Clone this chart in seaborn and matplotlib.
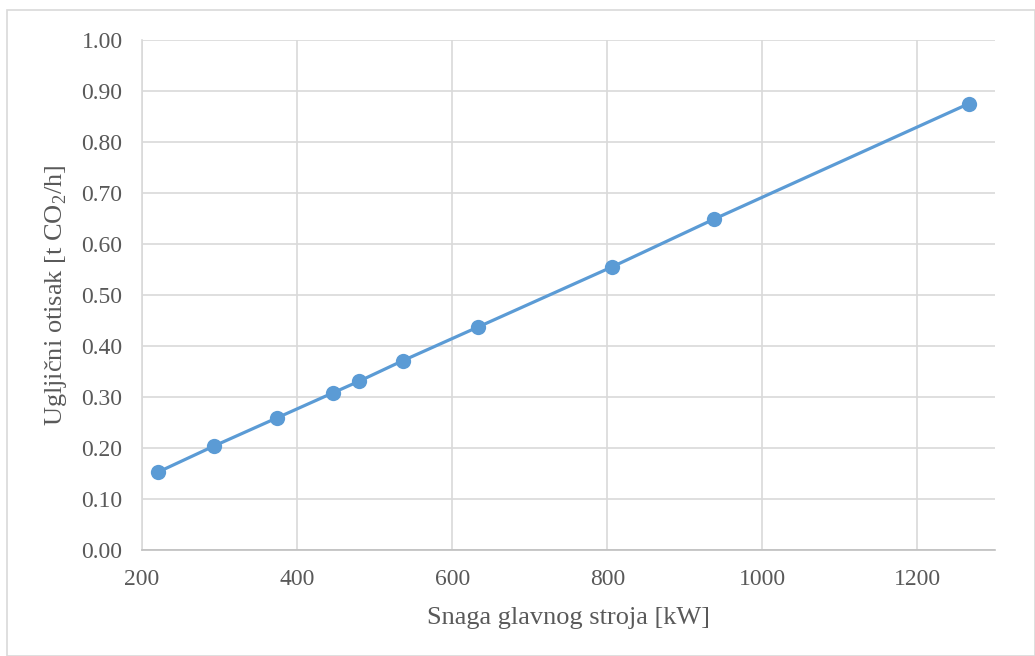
import matplotlib
matplotlib.use("Agg")
import matplotlib.pyplot as plt
import seaborn as sns
import pandas as pd
from matplotlib.patches import Rectangle

# data
snaga_kw = [221, 293, 374, 446, 480, 536, 633, 806, 938, 1266]
otisak_t = [0.153, 0.204, 0.259, 0.308, 0.331, 0.371, 0.437, 0.555, 0.649, 0.875]
x_ticks = [200, 400, 600, 800, 1000, 1200]
y_ticks = [0.0, 0.1, 0.2, 0.3, 0.4, 0.5, 0.6, 0.7, 0.8, 0.9, 1.0]

df = pd.DataFrame({"snaga": snaga_kw, "otisak": otisak_t})

sns.set_style("white")
plt.rcParams["font.family"] = ["Liberation Serif", "DejaVu Serif"]
plt.rcParams["mathtext.fontset"] = "custom"
plt.rcParams["mathtext.rm"] = "Liberation Serif"

text_col = "#595959"
grid_col = "#D9D9D9"
blue = "#5B9BD5"

fig = plt.figure(figsize=(10.35, 6.56), dpi=100)
ax = fig.add_axes([142 / 1035, 106 / 656, 853 / 1035, 510 / 656])

# outer chart-area border
fig.patches.append(Rectangle((7 / 1035, 0), 1 - 7 / 1035, 646 / 656, transform=fig.transFigure,
                             fill=False, edgecolor="#D9D9D9", linewidth=1.2))

sns.lineplot(data=df, x="snaga", y="otisak", ax=ax, color=blue, linewidth=2.3,
             marker="o", markersize=11, markeredgewidth=0, markerfacecolor=blue)

ax.set_xlim(200, 1300)
ax.set_ylim(0, 1.0)
ax.set_xticks(x_ticks)
ax.set_yticks(y_ticks)
ax.set_yticklabels([f"{v:.2f}" for v in y_ticks])
ax.grid(True, color=grid_col, linewidth=1.2)
ax.set_axisbelow(True)

for s in ["top", "right"]:
    ax.spines[s].set_visible(False)
ax.spines["left"].set_color(grid_col)
ax.spines["left"].set_linewidth(1.2)
ax.spines["bottom"].set_color("#BFBFBF")
ax.spines["bottom"].set_linewidth(1.2)

ax.tick_params(axis="both", length=0, labelsize=17, labelcolor=text_col)
ax.tick_params(axis="x", pad=14)
ax.tick_params(axis="y", pad=14)

ax.set_xlabel("Snaga glavnog stroja [kW]", fontsize=19, color=text_col, labelpad=12)
ax.set_ylabel(r"Ugljični otisak [t CO$_\mathregular{2}$/h]", fontsize=19, color=text_col, labelpad=9)

fig.savefig("out.png", dpi=100)
